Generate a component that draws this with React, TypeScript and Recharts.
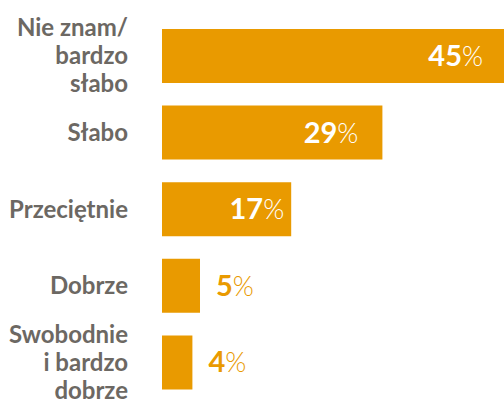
import { BarChart, Bar, XAxis, YAxis, LabelList } from "recharts"

const categories = ["Nie znam/\nbardzo\nsłabo", "Słabo", "Przeciętnie", "Dobrze", "Swobodnie\ni bardzo\ndobrze"]
const shares = [45, 29, 17, 5, 4]

const data = categories.map((name, i) => ({ name, value: shares[i] }))

const ORANGE = "#E99A00"
const GREY = "#6c6863"
const FONT = "Lato, 'Open Sans', sans-serif"

// how far the white label sits from the bar end
const insideInset = [21, 24, 7]

function CategoryTick(props: any) {
    const { x, y, payload } = props
    const lines = String(payload.value).split("\n")
    const lineH = 28
    return (
        <text x={x} y={y} textAnchor="end" fill={GREY} fontFamily={FONT} fontWeight={700} fontSize={24}>
            {lines.map((line, i) => (
                <tspan key={i} x={x} dy={i === 0 ? -((lines.length - 1) / 2) * lineH + 8 : lineH}>
                    {line}
                </tspan>
            ))}
        </text>
    )
}

function ValueLabel(props: any) {
    const { x, y, width, height, value, index } = props
    const inside = value >= 10
    const cy = y + height / 2 + 10
    const tx = inside ? x + width - (insideInset[index] ?? 16) : x + width + 16
    return (
        <text
            x={tx}
            y={cy}
            textAnchor={inside ? "end" : "start"}
            fill={inside ? "#ffffff" : ORANGE}
            fontFamily={FONT}
            fontSize={29}
        >
            <tspan fontWeight={700}>{value}</tspan>
            <tspan fontWeight={300} fontSize={27}>%</tspan>
        </text>
    )
}

export default function App() {
    return (
        <div style={{ position: "absolute", left: 0, top: 0, width: 504, height: 401, background: "#fff" }}>
            <BarChart
                width={504}
                height={401}
                data={data}
                layout="vertical"
                margin={{ top: 18, right: 0, bottom: 0, left: 0 }}
                barSize={54}
            >
                <XAxis type="number" domain={[0, 45]} hide />
                <YAxis
                    type="category"
                    dataKey="name"
                    width={162}
                    axisLine={false}
                    tickLine={false}
                    tickSize={0}
                    tickMargin={34}
                    interval={0}
                    tick={<CategoryTick />}
                />
                <Bar dataKey="value" fill={ORANGE} isAnimationActive={false}>
                    <LabelList dataKey="value" content={<ValueLabel />} />
                </Bar>
            </BarChart>
        </div>
    )
}
